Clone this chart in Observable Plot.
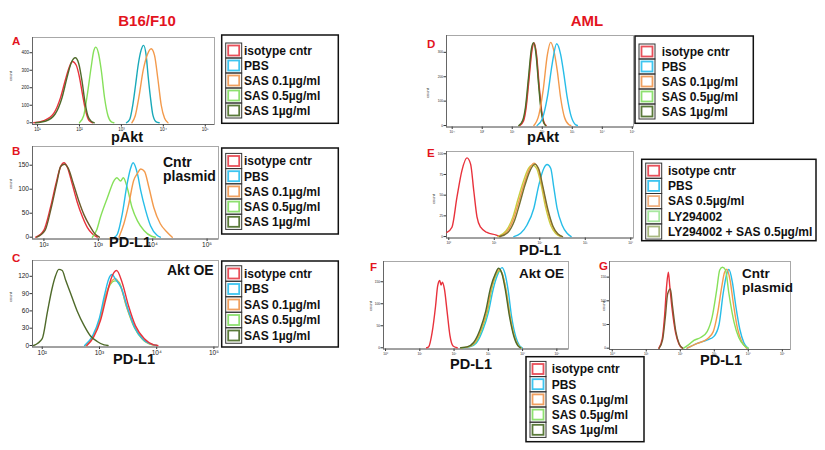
<!DOCTYPE html>
<html><head><meta charset="utf-8">
<script src="https://cdn.jsdelivr.net/npm/d3@7"></script>
<script src="https://cdn.jsdelivr.net/npm/@observablehq/plot@0.6"></script>
<style>
body{margin:0;background:#fff;}
#fig{position:relative;width:825px;height:450px;background:#fff;overflow:hidden;font-family:Arial,"Liberation Sans",sans-serif}
#fig svg{position:absolute}
</style></head><body><div id="fig"></div>
<script>
// ---------- series names & colours ----------
const seriesMain = ["isotype cntr","PBS","SAS 0.1µg/ml","SAS 0.5µg/ml","SAS 1µg/ml"];
const colorsMain = ["#e8323c","#27bde8","#f39a4c","#86e05a","#4f6a2a"];
const seriesE = ["isotype cntr","PBS","SAS 0.5µg/ml","LY294002","LY294002 + SAS 0.5µg/ml"];
const colorsE = ["#e8323c","#27bde8","#f39a4c","#c6d040","#74702e"];
const swatchMain = ["#e8505a","#3ec5f0","#f0a060","#8ee070","#5a7a3a"];
const swatchE = ["#e8505a","#3ec5f0","#f0b080","#a8e8a0","#a8b880"];

// ---------- panel A (B16/F10, pAkt): [log10 intensity, count] ----------
const A_iso   = [[0.91,0],[1.15,12],[1.39,55],[1.55,145],[1.67,250],[1.76,320],[1.83,350],[1.92,330],[2.0,260],[2.07,165],[2.15,65],[2.23,12],[2.31,0]];
const A_pbs   = [[3.12,0],[3.2,20],[3.27,99],[3.34,220],[3.4,330],[3.47,415],[3.53,442],[3.59,385],[3.64,260],[3.69,150],[3.75,45],[3.83,5],[3.9,0]];
const A_sas01 = [[3.25,0],[3.33,40],[3.42,150],[3.52,300],[3.62,390],[3.71,423],[3.79,385],[3.87,250],[3.95,100],[4.03,25],[4.11,0]];
const A_sas05 = [[2.0,0],[2.1,40],[2.18,150],[2.28,320],[2.34,410],[2.39,432],[2.45,400],[2.52,300],[2.6,140],[2.68,40],[2.76,5],[2.82,0]];
const A_sas1  = [[0.95,0],[1.2,10],[1.42,50],[1.58,140],[1.7,255],[1.8,340],[1.9,371],[1.98,340],[2.06,240],[2.13,120],[2.2,40],[2.28,8],[2.35,0]];
const A_xticks = [1,2,3,4,5], A_xlabels = ["10¹","10²","10³","10⁴","10⁵"];
const A_yticks = [0,100,200,300,400];

// ---------- panel B (Cntr plasmid, PD-L1) ----------
const B_iso   = [[1.85,0],[2.0,15],[2.12,62],[2.22,111],[2.3,145],[2.37,155],[2.43,146],[2.52,111],[2.61,74],[2.71,42],[2.8,20],[2.89,7],[2.98,0]];
const B_pbs   = [[3.3,0],[3.35,6],[3.44,48],[3.53,111],[3.59,142],[3.64,155],[3.72,132],[3.78,97],[3.87,56],[3.96,24],[4.08,4],[4.14,0]];
const B_sas01 = [[3.38,0],[3.47,28],[3.56,69],[3.65,118],[3.72,133],[3.78,142],[3.85,137],[3.93,104],[4.02,62],[4.14,28],[4.27,10],[4.36,0]];
const B_sas05 = [[2.89,0],[2.97,15],[3.04,42],[3.17,83],[3.29,118],[3.34,124],[3.41,117],[3.46,124],[3.53,104],[3.62,62],[3.72,34],[3.84,14],[3.98,2],[4.05,0]];
const B_sas1  = [[1.87,0],[2.02,14],[2.14,64],[2.24,115],[2.31,148],[2.38,152],[2.45,143],[2.54,112],[2.64,76],[2.74,46],[2.84,24],[2.93,8],[3.02,0]];
const B_xticks = [2,3,4,5], B_xlabels = ["10²","10³","10⁴","10⁵"];
const B_yticks = [0,50,100,150];

// ---------- panel C (Akt OE, PD-L1) ----------
const C_iso   = [[2.78,0],[2.9,15],[3.02,44],[3.11,80],[3.2,115],[3.3,130],[3.4,108],[3.51,68],[3.63,34],[3.78,12],[3.95,1],[4.02,0]];
const C_pbs   = [[2.74,0],[2.88,17],[3.0,48],[3.09,88],[3.16,115],[3.22,123],[3.28,115],[3.38,100],[3.5,62],[3.62,30],[3.77,10],[3.95,1],[4.0,0]];
const C_sas01 = [[2.76,0],[2.89,16],[3.01,46],[3.1,84],[3.19,108],[3.28,116],[3.37,102],[3.48,66],[3.61,33],[3.76,11],[3.93,1],[4.0,0]];
const C_sas05 = [[2.76,0],[2.89,16],[3.01,45],[3.1,82],[3.19,106],[3.27,112],[3.34,110],[3.47,68],[3.6,33],[3.75,11],[3.93,1],[4.0,0]];
const C_sas1  = [[1.85,0],[2.0,12],[2.09,58],[2.17,98],[2.23,120],[2.29,132],[2.35,130],[2.41,113],[2.49,92],[2.61,60],[2.73,35],[2.84,17],[2.96,7],[3.08,1],[3.15,0]];
const C_xticks = [2,3,4,5], C_xlabels = ["10²","10³","10⁴","10⁵"];
const C_yticks = [0,30,60,90,120];

// ---------- panel D (AML, pAkt) : [decade index, count] ----------
const D_iso   = [[2.25,0],[2.38,20],[2.46,70],[2.56,190],[2.66,310],[2.73,338],[2.81,290],[2.9,160],[2.98,60],[3.06,12],[3.13,0]];
const D_pbs   = [[2.83,0],[3.0,27],[3.17,116],[3.33,252],[3.48,335],[3.61,293],[3.72,211],[3.83,116],[3.94,48],[4.08,7],[4.17,0]];
const D_sas01 = [[2.72,0],[2.89,45],[3.03,145],[3.17,290],[3.28,341],[3.39,305],[3.5,225],[3.61,116],[3.74,34],[3.89,3],[3.95,0]];
const D_sas05 = [[2.23,0],[2.36,21],[2.45,72],[2.55,192],[2.65,312],[2.72,338],[2.8,292],[2.89,162],[2.97,60],[3.05,13],[3.12,0]];
const D_sas1  = [[2.22,0],[2.35,22],[2.44,75],[2.54,195],[2.64,315],[2.71,340],[2.79,295],[2.88,165],[2.96,62],[3.04,14],[3.11,0]];
const D_xticks = [0,1,2,3,4,5,6], D_xlabels = ["10⁻¹","10⁰","10¹","10²","10³","10⁴","10⁵"];
const D_yticks = [0,100,200,300];

// ---------- panel E (AML, PD-L1, LY294002) ----------
const E_iso   = [[-0.04,0.2],[0.07,0.45],[0.18,1.9],[0.29,3.2],[0.4,3.8],[0.48,3.5],[0.55,2.2],[0.62,0.95],[0.7,0.45],[0.84,0.2],[1.03,0.08],[1.14,0]];
const E_pbs   = [[1.43,0],[1.58,0.16],[1.72,0.56],[1.87,1.37],[1.98,2.5],[2.09,3.3],[2.16,3.48],[2.24,3.3],[2.31,2.35],[2.38,1.37],[2.49,0.56],[2.6,0.16],[2.69,0]];
const E_sas05 = [[1.1,0],[1.28,0.24],[1.43,0.9],[1.54,1.7],[1.65,2.5],[1.76,3.2],[1.87,3.55],[1.96,3.3],[2.05,2.5],[2.16,1.35],[2.27,0.55],[2.38,0.15],[2.49,0]];
const E_ly    = [[1.08,0],[1.26,0.28],[1.41,0.95],[1.52,1.8],[1.63,2.6],[1.74,3.25],[1.84,3.45],[1.93,3.3],[2.02,2.6],[2.13,1.4],[2.24,0.55],[2.35,0.15],[2.46,0]];
const E_lysas = [[1.12,0],[1.3,0.2],[1.45,0.8],[1.56,1.6],[1.67,2.45],[1.78,3.15],[1.89,3.5],[1.98,3.25],[2.07,2.4],[2.18,1.3],[2.29,0.5],[2.4,0.12],[2.5,0]];
const E_xticks = [0,1,2,3,4], E_xlabels = ["10⁰","10¹","10²","10³","10⁴"];
const E_yticks = [0,1,2,3,4], E_ylabels = ["0","25","50","75","100"];

// ---------- panel F (AML, Akt OE, PD-L1) ----------
const F_iso   = [[1.2,0],[1.26,0.05],[1.36,0.7],[1.46,1.9],[1.52,2.8],[1.58,3.06],[1.62,2.85],[1.66,2.98],[1.72,2.65],[1.8,1.6],[1.88,0.55],[1.97,0.08],[2.09,0]];
const F_pbs   = [[2.25,0],[2.45,0.04],[2.65,0.22],[2.85,0.85],[3.0,1.6],[3.14,2.65],[3.28,3.35],[3.4,3.64],[3.48,3.4],[3.58,2.6],[3.68,1.4],[3.8,0.5],[3.91,0.1],[3.99,0]];
const F_sas01 = [[2.2,0],[2.4,0.04],[2.6,0.24],[2.8,0.9],[2.95,1.65],[3.09,2.72],[3.23,3.38],[3.32,3.55],[3.41,3.35],[3.51,2.65],[3.63,1.45],[3.75,0.55],[3.87,0.1],[3.95,0]];
const F_sas05 = [[2.22,0],[2.42,0.04],[2.62,0.23],[2.82,0.88],[2.97,1.62],[3.1,2.68],[3.24,3.35],[3.33,3.5],[3.42,3.3],[3.52,2.6],[3.64,1.42],[3.76,0.53],[3.88,0.1],[3.96,0]];
const F_sas1  = [[2.19,0],[2.38,0.04],[2.57,0.24],[2.77,0.88],[2.92,1.64],[3.06,2.7],[3.21,3.38],[3.3,3.61],[3.4,3.35],[3.5,2.6],[3.62,1.4],[3.74,0.55],[3.86,0.1],[3.94,0]];
const F_xticks = [0,1,2,3,4,5], F_xlabels = ["10⁰","10¹","10²","10³","10⁴","10⁵"];
const F_yticks = [0,1,2,3], F_ylabels = ["0","50","100","150"];

// ---------- panel G (AML, Cntr plasmid, PD-L1) ----------
const G_iso   = [[1.37,0],[1.47,0.39],[1.54,1.38],[1.6,2.64],[1.65,3.21],[1.69,2.64],[1.76,1.66],[1.86,0.67],[1.96,0.18],[2.06,0]];
const G_pbs   = [[2.2,0],[2.5,0.2],[2.8,0.35],[2.99,0.5],[3.14,1.0],[3.26,2.3],[3.36,3.1],[3.43,3.32],[3.53,2.8],[3.63,1.8],[3.75,0.8],[3.87,0.23],[3.99,0]];
const G_sas01 = [[2.2,0],[2.5,0.2],[2.8,0.4],[2.97,0.7],[3.1,1.5],[3.22,2.6],[3.3,3.2],[3.37,3.33],[3.46,2.9],[3.56,1.9],[3.68,0.85],[3.8,0.3],[3.95,0]];
const G_sas05 = [[2.1,0],[2.25,0.15],[2.4,0.33],[2.6,0.45],[2.79,0.7],[2.94,1.33],[3.07,2.45],[3.16,3.3],[3.24,3.42],[3.33,3.3],[3.43,2.3],[3.58,1.1],[3.72,0.45],[3.87,0.12],[4.0,0]];
const G_sas1  = [[1.38,0],[1.48,0.35],[1.56,1.3],[1.63,2.3],[1.71,2.5],[1.77,1.8],[1.87,0.7],[1.97,0.18],[2.07,0]];
const G_xticks = [0,1,2,3,4,5], G_xlabels = ["10⁰","10¹","10²","10³","10⁴","10⁵"];
const G_yticks = [0,1,2,3], G_ylabels = ["0","50","100","150"];

// ---------------------------------------------------------------
const fig = document.getElementById("fig");

function panel(o){
  const ml=30, mr=4, mt=4, mb=14;
  const w = o.right - o.left + ml + mr, h = o.bottom - o.top + mt + mb;
  const rows = [];
  o.series.forEach(([name, pts]) => pts.forEach(([x,y]) => rows.push({x, y, k:name})));
  const xlab = o.xlabels ? (d => o.xlabels[o.xticks.indexOf(d)]) : undefined;
  const ylab = o.ylabels ? (d => o.ylabels[o.yticks.indexOf(d)]) : undefined;
  const svg = Plot.plot({
    width:w, height:h, marginLeft:ml, marginRight:mr, marginTop:mt, marginBottom:mb,
    style:{background:"transparent", fontFamily:"Arial, 'Liberation Sans', sans-serif", fontSize:o.fs+"px", color:"#222", overflow:"visible"},
    x:{domain:o.xd}, y:{domain:o.yd},
    color:{domain:o.names, range:o.colors},
    marks:[
      Plot.frame({stroke:"#a8a8a8", strokeWidth:1}),
      Plot.axisX({ticks:o.xticks, tickFormat:xlab, tickSize:2.5, tickPadding:1, label:null, stroke:"#333"}),
      Plot.axisY({ticks:o.yticks, tickFormat:ylab, tickSize:2.5, tickPadding:1, label:null, stroke:"#333"}),
      Plot.ruleY([o.yd[0]], {stroke:"#555", strokeWidth:0.8}),
      Plot.ruleX([o.xd[0]], {stroke:"#555", strokeWidth:0.8}),
      Plot.line(rows, {x:"x", y:"y", z:"k", stroke:"k", strokeWidth:1.4, curve:"monotone-x"})
    ]
  });
  svg.style.left = (o.left - ml) + "px";
  svg.style.top = (o.top - mt) + "px";
  fig.appendChild(svg);
}

panel({left:32, right:214, top:37, bottom:124, xd:[0.88,5.22], yd:[-10,487], fs:4.5,
  xticks:A_xticks, xlabels:A_xlabels, yticks:A_yticks, names:seriesMain, colors:["#e8323c","#19a9b9","#f39a4c","#86e05a","#4f6a2a"],
  series:[[seriesMain[0],A_iso],[seriesMain[1],A_pbs],[seriesMain[2],A_sas01],[seriesMain[3],A_sas05],[seriesMain[4],A_sas1]]});
panel({left:32, right:218, top:146, bottom:238.5, xd:[1.79,5.21], yd:[-3.75,189], fs:6.5,
  xticks:B_xticks, xlabels:B_xlabels, yticks:B_yticks, names:seriesMain, colors:["#e8323c","#27bde8","#f39a4c","#86e05a","#6b5a2a"],
  series:[[seriesMain[0],B_iso],[seriesMain[3],B_sas05],[seriesMain[1],B_pbs],[seriesMain[2],B_sas01],[seriesMain[4],B_sas1]]});
panel({left:32, right:218, top:260, bottom:346.5, xd:[1.83,5.08], yd:[-2.6,147.4], fs:6.5,
  xticks:C_xticks, xlabels:C_xlabels, yticks:C_yticks, names:seriesMain, colors:colorsMain,
  series:[[seriesMain[3],C_sas05],[seriesMain[2],C_sas01],[seriesMain[1],C_pbs],[seriesMain[0],C_iso],[seriesMain[4],C_sas1]]});
panel({left:446, right:633, top:35, bottom:126.5, xd:[-0.19,6.04], yd:[-6,369], fs:3.2,
  xticks:D_xticks, xlabels:D_xlabels, yticks:D_yticks, names:seriesMain, colors:["#e8323c","#27bde8","#f39a4c","#86e05a","#4f6a2a"],
  series:[[seriesMain[3],D_sas05],[seriesMain[0],D_iso],[seriesMain[4],D_sas1],[seriesMain[2],D_sas01],[seriesMain[1],D_pbs]]});
panel({left:446, right:633, top:151, bottom:237.5, xd:[-0.05,4.06], yd:[-0.07,4.11], fs:3.2,
  xticks:E_xticks, xlabels:E_xlabels, yticks:E_yticks, ylabels:E_ylabels, names:seriesE, colors:colorsE,
  series:[[seriesE[0],E_iso],[seriesE[1],E_pbs],[seriesE[3],E_ly],[seriesE[2],E_sas05],[seriesE[4],E_lysas]]});
panel({left:383, right:568, top:261, bottom:348.5, xd:[-0.06,5.34], yd:[-0.055,3.92], fs:3.2,
  xticks:F_xticks, xlabels:F_xlabels, yticks:F_yticks, ylabels:F_ylabels, names:seriesMain, colors:colorsMain,
  series:[[seriesMain[0],F_iso],[seriesMain[1],F_pbs],[seriesMain[3],F_sas05],[seriesMain[2],F_sas01],[seriesMain[4],F_sas1]]});
panel({left:609, right:790, top:261, bottom:349, xd:[-0.08,5.24], yd:[-0.055,3.66], fs:3.2,
  xticks:G_xticks, xlabels:G_xlabels, yticks:G_yticks, ylabels:G_ylabels, names:seriesMain, colors:["#e8323c","#27bde8","#f39a4c","#86e05a","#7a5a30"],
  series:[[seriesMain[1],G_pbs],[seriesMain[2],G_sas01],[seriesMain[3],G_sas05],[seriesMain[0],G_iso],[seriesMain[4],G_sas1]]});

// ---------- annotation overlay ----------
const ov = d3.select(fig).append("svg").attr("width",825).attr("height",450).style("left","0px").style("top","0px")
  .style("font-family","Arial, 'Liberation Sans', sans-serif");

const texts = [
  ["B16/F10",147,26,15,"#e3141e","middle"],["AML",587,26,15,"#e3141e","middle"],
  ["A",12,44.5,11.5,"#e3141e","start"],["B",12,155,11.5,"#e3141e","start"],["C",12,262,11.5,"#e3141e","start"],
  ["D",427,48,11.5,"#e3141e","start"],["E",427,157,11.5,"#e3141e","start"],["F",370,271,11.5,"#e3141e","start"],["G",599,270,11.5,"#e3141e","start"],
  ["pAkt",127,142,14.5,"#111","middle"],["PD-L1",130,247,14.5,"#111","middle"],["PD-L1",134,364,14.5,"#111","middle"],
  ["pAkt",543,142,14.5,"#111","middle"],["PD-L1",540,254.5,14.5,"#111","middle"],["PD-L1",471,369,14.5,"#111","middle"],["PD-L1",721,365,14.5,"#111","middle"],
  ["Cntr",163,167,14,"#111","start"],["plasmid",163,181,14,"#111","start"],["Akt OE",167,275,14,"#111","start"],
  ["Akt OE",519,278,13.5,"#111","start"],["Cntr",742,278,13.5,"#111","start"],["plasmid",742,292,13.5,"#111","start"]
];
texts.forEach(([t,x,y,s,c,a]) => ov.append("text").attr("x",x).attr("y",y).attr("font-size",s).attr("font-weight","bold")
  .attr("fill",c).attr("text-anchor",a).text(t));

const countLabels = [[12,76],[12,184],[12,297],[429,93],[435,199],[372,306],[605,306]];
countLabels.forEach(([x,y]) => ov.append("text").attr("transform",`translate(${x},${y}) rotate(-90)`)
  .attr("font-size",4).attr("text-anchor","middle").attr("fill","#333").text("count"));

function legend(o){
  const g = ov.append("g");
  g.append("rect").attr("x",o.x).attr("y",o.y).attr("width",o.w).attr("height",o.h)
    .attr("fill","#fff").attr("stroke","#111").attr("stroke-width",1.5);
  o.items.forEach((t,i) => {
    const cy = o.first + i*o.step;
    g.append("rect").attr("x",o.x+4).attr("y",cy-o.step/2).attr("width",16).attr("height",o.step)
      .attr("fill","none").attr("stroke","#333").attr("stroke-width",1);
    g.append("rect").attr("x",o.x+6.5).attr("y",cy-5).attr("width",11).attr("height",10)
      .attr("fill","#fff").attr("stroke",o.colors[i]).attr("stroke-width",1.8);
    g.append("text").attr("x",o.tx).attr("y",cy+4.3).attr("font-size",12).attr("font-weight","bold")
      .attr("fill","#111").text(t);
  });
}
legend({x:221.7,y:35,w:116.6,h:88.3,first:50.5,step:15,tx:244,items:seriesMain,colors:swatchMain});
legend({x:221.7,y:148,w:116.6,h:86,first:161,step:15.2,tx:244,items:seriesMain,colors:swatchMain});
legend({x:221.7,y:261,w:116.6,h:86,first:273.5,step:15.5,tx:244,items:seriesMain,colors:swatchMain});
legend({x:635,y:36,w:118.3,h:87.3,first:51.5,step:15,tx:661.7,items:seriesMain,colors:swatchMain});
legend({x:641.7,y:159.3,w:174.3,h:81.4,first:170.7,step:15.2,tx:668,items:seriesE,colors:swatchE});
legend({x:526,y:356.7,w:118,h:85,first:369,step:15.2,tx:551.7,items:seriesMain,colors:swatchMain});
</script></body></html>
